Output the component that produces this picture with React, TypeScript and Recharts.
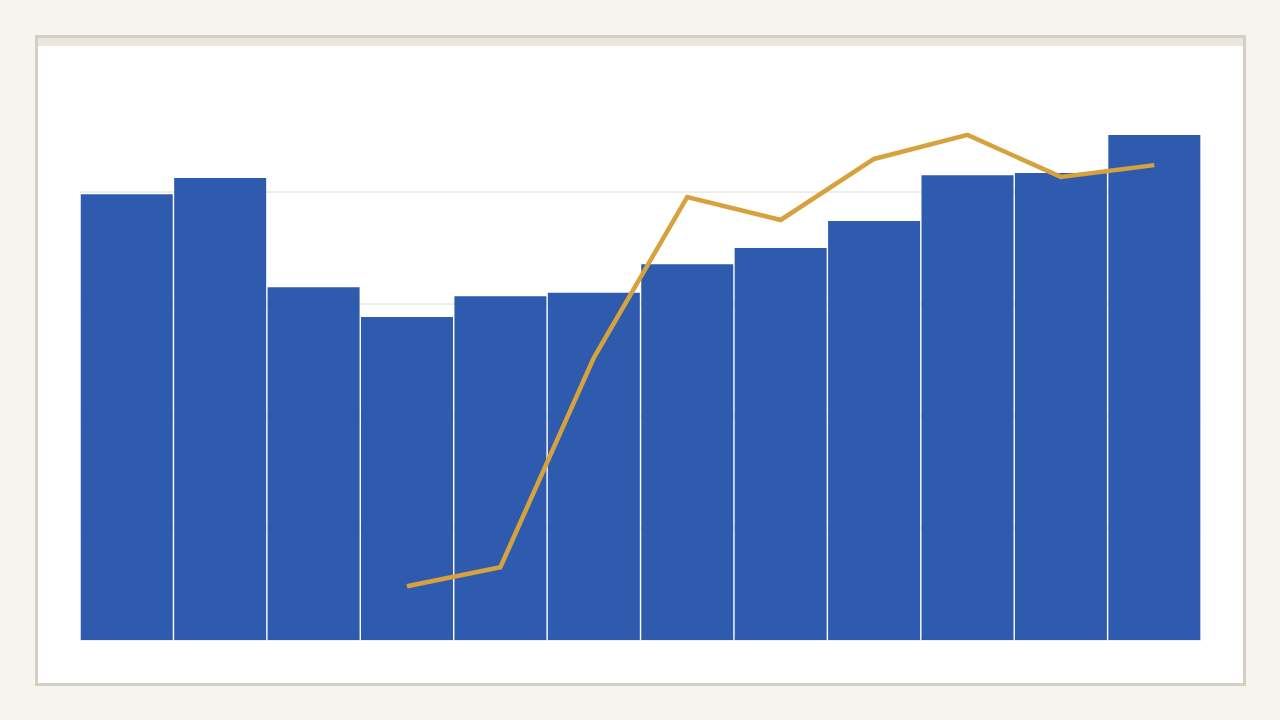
import { ComposedChart, Bar, Line, XAxis, YAxis, CartesianGrid } from "recharts";

const periods = ["Jan", "Feb", "Mar", "Apr", "May", "Jun", "Jul", "Aug", "Sep", "Oct", "Nov", "Dec"];
const barValues = [79.6, 82.5, 63.0, 57.7, 61.4, 62.0, 67.1, 70.0, 74.8, 83.0, 83.4, 90.2];
const lineValues = [null, null, null, 9.6, 13.0, 50.4, 79.1, 75.0, 85.9, 90.2, 82.7, 84.8];
const yTicks = [0, 20, 40, 60, 80];
const yMax = 100;

const data = periods.map((p, i) => ({ period: p, bar: barValues[i], line: lineValues[i] }));

// grid only at the listed ticks (no line at the top edge of the plot)
const gridRows = (props: any) => {
  const scale = props?.yAxis?.scale;
  if (typeof scale === "function") return yTicks.map((t) => scale(t));
  const off = props?.offset;
  if (!off) return [];
  return yTicks.map((t) => off.top + off.height * (1 - t / yMax));
};

export default function App() {
  return (
    <div style={{ position: "absolute", left: 0, top: 0, width: 1280, height: 720, background: "#f5f4ef", overflow: "hidden" }}>
      {/* card */}
      <div
        style={{
          position: "absolute", left: 35, top: 35, width: 1211, height: 651,
          boxSizing: "border-box", border: "3px solid #d4cfc5", background: "#fff",
        }}
      >
        <div style={{ height: 8, background: "#ebe7de" }} />
      </div>

      <div style={{ position: "absolute", left: 0, top: 0 }}>
        <ComposedChart
          width={1280}
          height={720}
          data={data}
          margin={{ top: 80, right: 79, bottom: 80, left: 80 }}
          barCategoryGap={0.75}
        >
          <CartesianGrid vertical={false} stroke="#dedacf" strokeWidth={1} horizontalCoordinatesGenerator={gridRows} />
          <XAxis dataKey="period" hide />
          <YAxis domain={[0, yMax]} ticks={yTicks} hide />
          <Bar dataKey="bar" fill="#2f5bae" isAnimationActive={false} />
          <Line
            type="linear"
            dataKey="line"
            stroke="#d6a23d"
            strokeWidth={4.5}
            dot={false}
            activeDot={false}
            isAnimationActive={false}
          />
        </ComposedChart>
      </div>
    </div>
  );
}
